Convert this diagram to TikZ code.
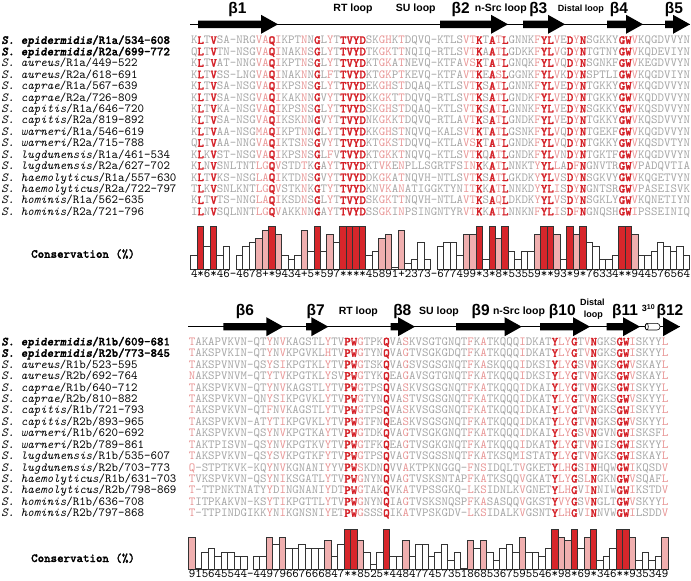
\documentclass[tikz,border=0pt]{standalone}
\usepackage{fontspec}
\setmainfont{Liberation Sans}
\setmonofont{lmmono10-regular.otf}[
  ItalicFont=lmmono10-italic.otf,
  BoldFont=lmmonolt10-bold.otf,
  BoldItalicFont=lmmonolt10-boldoblique.otf,
  BoldFeatures={FakeBold=1.5},
  BoldItalicFeatures={FakeBold=1.5}]
\usepackage{xcolor}
\definecolor{resgray}{HTML}{A5A5A5}
\definecolor{respink}{HTML}{E89595}
\definecolor{resred}{HTML}{D42027}
\definecolor{barred}{HTML}{D7262B}
\definecolor{barpink}{HTML}{F0AFAF}
\definecolor{baredge}{HTML}{333333}

\newcommand\alnfont{\ttfamily\fontsize{12.344}{13}\selectfont}
\newcommand\betafont{\bfseries\fontsize{15.5}{16}\selectfont}
\newcommand\loopfont{\bfseries\fontsize{10.5}{11}\selectfont}
\newcommand\distfont{\bfseries\fontsize{9}{10}\selectfont}

% colour of one residue, from the conservation symbol of its column
\def\rescol#1#2{%
  \ifx*#1\textcolor{resred}{\bfseries#2}%
  \else\ifx+#1\textcolor{respink}{#2}%
  \else\ifx8#1\textcolor{respink}{#2}%
  \else\ifx9#1\textcolor{respink}{#2}%
  \else\textcolor{resgray}{#2}\fi\fi\fi\fi}
\def\pairup#1#2\relax#3#4\relax{\rescol#1{#3}%
  \ifx\relax#2\relax\else\pairup#2\relax#4\relax\fi}
\newcommand\colorres[2]{\expandafter\pairup#1\relax#2\relax}

% one histogram bar per conservation symbol
\newcount\barcol
\def\onebar#1{%
  \ifx-#1\else
    \def\barv{#1}\def\barfill{white}%
    \ifx*#1\def\barv{11}\def\barfill{barred}\fi
    \ifx+#1\def\barv{10}\def\barfill{barpink}\fi
    \ifx8#1\def\barfill{barpink}\fi
    \ifx9#1\def\barfill{barpink}\fi
    \draw[bar, fill=\barfill] ({\barx+(\the\barcol-1)*\colw},\bary)
      rectangle ++(\colw,{\barscale*\barv-\baroff});
  \fi}
\def\barsfrom#1#2\relax{\advance\barcol by 1\relax\onebar#1%
  \ifx\relax#2\relax\else\barsfrom#2\relax\fi}

% beta strand arrow: start, tip, y
\newcommand\strand[3]{%
  \fill (#1,#3+3.7) -- (#2-17,#3+3.7) -- (#2-17,#3+9.5) -- (#2,#3)
    -- (#2-17,#3-9.5) -- (#2-17,#3-3.7) -- (#1,#3-3.7) -- cycle;}

% label + coloured sequence of one alignment row
\newcommand\alnrow[4]{%
  \node[lab] (lab#1#2) at (1.3,{\rowtop-(#2-1)*\rowstep}) {#3};
  \node[seq] (seq#1#2) at (\seqx,{\rowtop-(#2-1)*\rowstep}) {\colorres{\curcons}{#4}};}

\begin{document}
\begin{tikzpicture}[x=1pt,y=1pt,
  lab/.style={anchor=base west, inner sep=0pt, font=\alnfont},
  seq/.style={anchor=base west, inner sep=0pt, font=\alnfont},
  betalab/.style={anchor=base, inner sep=0pt, font=\betafont},
  looplab/.style={anchor=base, inner sep=0pt, font=\loopfont},
  bar/.style={draw=baredge, line width=0.8pt}
]
  \useasboundingbox (0,0) rectangle (691,-581);
  \def\colw{6.4807}
  \def\rowstep{11.43}

  % ---------- R1a / R2a ----------
  \draw[line width=0.9pt] (190,-24.3) -- (690,-24.3);
  \strand{198}{278}{-24.3}
  \strand{440}{508}{-24.3}
  \strand{523}{565}{-24.3}
  \strand{607}{643}{-24.3}
  \strand{665}{690}{-24.3}

  \node[betalab] (b1) at (237.5,-13.3) {β1};
  \node[looplab] (rta) at (353,-11.7) {RT loop};
  \node[looplab] (sua) at (415.8,-11.7) {SU loop};
  \node[betalab] (b2) at (460.7,-13.3) {β2};
  \node[looplab] (srca) at (500.8,-11.7) {n-Src loop};
  \node[betalab] (b3) at (538.3,-13.3) {β3};
  \node[looplab, font=\distfont] (dista) at (580.8,-11.7) {Distal loop};
  \node[betalab] (b4) at (619,-13.3) {β4};
  \node[betalab] (b5) at (674,-13.3) {β5};

  \def\curcons{4*6*46-4678+*9434+5*597****45891+2373-677499*3*8*53559**93*9*76334**944576564}
  \def\rowtop{-43.9}\def\seqx{190.8}
  \alnrow{a}{1}{\textbf{\textit{S. epidermidis}/R1a/534-608}}{KLTVSA-NRGVAQIKPTNNGLYTTVYDSKGHKTDQVQ-KTLSVTKTATLGNNKFYLVEDYNSGKKYGWVKQGDVVYN}
  \alnrow{a}{2}{\textbf{\textit{S. epidermidis}/R2a/699-772}}{QLTVTN-NSGVAQINAKNSGLYTTVYDTKGKTTNQIQ-RTLSVTKAATLGDKKFYLVGDYNTGTNYGWVKQDEVIYN}
  \alnrow{a}{3}{\textit{S. aureus}/R1a/449-522}{KLTVAT-NNGVAQIKPTNSGLYTTVYDKTGKATNEVQ-KTFAVSKTATLGNQKFYLVQDYNSGNKFGWVKEGDVVYN}
  \alnrow{a}{4}{\textit{S. aureus}/R2a/618-691}{KLTVSS-LNGVAQINAKNNGLFTTVYDKTGKPTKEVQ-KTFAVTKEASLGGNKFYLVKDYNSPTLIGWVKQGDVIYN}
  \alnrow{a}{5}{\textit{S. caprae}/R1a/567-639}{KLTVSA-NSGVAQIKPSNSGLYTTVYDEKGHSTDQAQ-KTLSVTKSATLGNNKFYLVEDYNTGKKYGWVKQGDVVYN}
  \alnrow{a}{6}{\textit{S. caprae}/R2a/726-809}{KLTVSA-NSGVAQIKAKNNGVYTTVYDKKGKTTDQVQ-RTLSVTKSATLGNDKFYLVEDYNTGKKYGWVKQDDVVYN}
  \alnrow{a}{7}{\textit{S. capitis}/R1a/646-720}{KLTVKA-NSGVAQIKPSNSGLYTTVYDSKGHSTDQAQ-KTLSVTKSATLGNNKFYLVEDYNSGKKYGWVKQSDVVYN}
  \alnrow{a}{8}{\textit{S. capitis}/R2a/819-892}{KLTVSA-NSGVAQIKSKNNGVYTTVYDNKGKKTDQVQ-RTLAVTKSATLGNDKFYLVEDYNTGKKYGWVKQSDVVYN}
  \alnrow{a}{9}{\textit{S. warneri}/R1a/546-619}{KLTVAA-NSGMAQIKPTNNGLYTTVYDKKGHSTNQVQ-KALSVTKTATLGSNKFYLVQDYNTGEKFGWVKQGDVVYN}
  \alnrow{a}{10}{\textit{S. warneri}/R2a/715-788}{QLTVAA-NNGVAQIKTSNSGVYTTVYDKTGKSTDQVQ-KTLAVSKTATLGNDKFYLVQDYNTGKKYGWVKQSDVTYN}
  \alnrow{a}{11}{\textit{S. lugdunensis}/R1a/461-534}{KLKVST-NSGVAQIKPSNSGLFVTVYDKTGKKTNQVQ-KTLSVTKQATLGNDKFYLVNDYNTGKTFGWVKQGDVVYN}
  \alnrow{a}{12}{\textit{S. lugdunensis}/R2a/627-702}{KLNVSNLTNTLGQVSTDTKGAYTTVYDKTVKENPLLSGRTFSINKKATLNNKTYYLLADFNGNVTRGWVPADQVTIA}
  \alnrow{a}{13}{\textit{S. haemolyticus}/R1a/557-630}{KLTVKS-NSGLAQIKTDNSGVYTTVYDDKGKATNQVH-NTLSVTKSATLGKDKYYLVSDYNSGKVYGWVKQGETVYN}
  \alnrow{a}{14}{\textit{S. haemolyticus}/R2a/722-797}{TLKVSNLKNTLGQVSTKNKGTYTTVYDKNVKANATIGGKTYNITKKATLNNKDYYLISDYNGNTSRGWVPASEISVK}
  \alnrow{a}{15}{\textit{S. hominis}/R1a/562-635}{KLTVTS-NNGLAQIKSDNSGLYTTVYDSKGKTTNQVH-NTLAVTKSAQLDKDKYYLVSDYNSGKLYGWVKQNETIYN}
  \alnrow{a}{16}{\textit{S. hominis}/R2a/721-796}{ILNVSQLNNTLGQVAKKNNGAYTTVYDSSGKINPSINGNTYRVTKKATLNNKNFYLISDFNGNQSHGWIPSSEINIQ}

  \node[lab, font=\alnfont\bfseries] (consa) at (31,-257.8) {Conservation (\%)};
  \def\barx{190.8}\def\bary{-269.3}\def\barscale{4.06}\def\baroff{1.9}
  \barcol=0 \expandafter\barsfrom\curcons\relax
  \node[seq] (numa) at (\seqx,-277.5) {\curcons};

  % ---------- R1b / R2b ----------
  \draw[line width=0.9pt] (188.3,-326.7) -- (680,-326.7);
  \strand{223.3}{283.3}{-326.7}
  \strand{306}{328.3}{-326.7}
  \strand{390.7}{415}{-326.7}
  \strand{456}{521.7}{-326.7}
  \strand{540}{590}{-326.7}
  \strand{606.7}{640}{-326.7}
  \draw[fill=white, line width=0.6pt, rounded corners=3pt] (645,-330) rectangle (660,-323.4);
  \draw[line width=0.6pt] (646.8,-326.7) ellipse (1.5 and 3.3);
  \strand{663}{680}{-326.7}

  \node[betalab] (b6) at (245,-315) {β6};
  \node[betalab] (b7) at (315.7,-315) {β7};
  \node[looplab] (rtb) at (358.3,-314) {RT loop};
  \node[betalab] (b8) at (402.3,-315) {β8};
  \node[looplab] (sub) at (439,-314) {SU loop};
  \node[betalab] (b9) at (480.7,-315) {β9};
  \node[looplab] (srcb) at (519,-314) {n-Src loop};
  \node[betalab] (b10) at (562.3,-315) {β10};
  \node[looplab, font=\distfont] (distb) at (592.3,-305.7) {Distal};
  \node[looplab, font=\distfont] (loopb) at (593.3,-317.3) {loop};
  \node[betalab] (b11) at (625,-315) {β11};
  \node[looplab, font=\distfont] (h310) at (648.3,-311.5) {3\raisebox{2.5pt}{\fontsize{7}{7}\selectfont 10}};
  \node[betalab] (b12) at (670,-315) {β12};

  \def\curcons{915645544-44979667666847**8525*4484774573518685367595546*98*69*346**935349}
  \def\rowtop{-345.4}\def\seqx{188.6}
  \alnrow{b}{1}{\textbf{\textit{S. epidermidis}/R1b/609-681}}{TAKAPVKVN-QTYNVKAGSTLYTVPWGTPKQVASKVSGTGNQTFKATKQQQIDKATYLYGTVNGKSGWISKYYL}
  \alnrow{b}{2}{\textbf{\textit{S. epidermidis}/R2b/773-845}}{TAKSPVKIN-QTYNVKPGVKLHTVPWGTYNQVAGTVSGKGDQTFKATKQQQIDKATYLYGTVNGKSGWISKYYL}
  \alnrow{b}{3}{\textit{S. aureus}/R1b/523-595}{TAKSPVNVN-QSYSIKPGTKLYTVPWGTSKQVAGSVSGSGNQTFKASKQQQIDKSIYLYGSVNGKSGWVSKAYL}
  \alnrow{b}{4}{\textit{S. aureus}/R2b/692-764}{NAKSPVNVM-QTYTVKPGTKLYSVPWGTYKQEAGAVSGTGNQTFKATKQQQIDKSIYLYGTVNGKSGWVSKAYL}
  \alnrow{b}{5}{\textit{S. caprae}/R1b/640-712}{TAKSPVKVN-QTYNVKAGSTLYTVPWGTPSQVASKVSGSGNQTFKATKQQQIDKAIYLYGTVNGKSGWISKYYL}
  \alnrow{b}{6}{\textit{S. caprae}/R2b/810-882}{TAKSPVKVN-QNYSIKPGVKLYTVPWGTYNQVASTVSGSGNQTFKATKQQQIDKATYLYGTVNGKSGWVSKYYL}
  \alnrow{b}{7}{\textit{S. capitis}/R1b/721-793}{TAKSPVKVN-QTFNVKAGSTLYTVPWGTPSQVASKVSGSGNQTFKATKQQQIDKAIYLYGTVNGKSGWISKYYL}
  \alnrow{b}{8}{\textit{S. capitis}/R2b/893-965}{TAKSPVKVN-ATYTIKPGVKLYTVPWGTFNQEASKVSGSGNQTFKATKQQQIDKATYLYGTVNGKSGWVSKYYL}
  \alnrow{b}{9}{\textit{S. warneri}/R1b/620-692}{TAKSPVKVN-QSYNVKPGTKAYTVPWGTDKQVAGTVSGKGNQTFKATKQQQIDKAIYLYGSVNGVNGWISKSFL}
  \alnrow{b}{10}{\textit{S. warneri}/R2b/789-861}{TAKTPISVN-QSYNVKPGTKVYTVPWGTFKQEAGTVSGKGNQTFKATKQQQIDKATYLYGTVNGISGWISKYYL}
  \alnrow{b}{11}{\textit{S. lugdunensis}/R1b/535-607}{TAKSPVKVN-QSYSVKPGTKFYTVPWGTPSQVAGTVSGSSNQTFKATKSQMISTATYLYGTVNGKSGWISKAYL}
  \alnrow{b}{12}{\textit{S. lugdunensis}/R2b/703-773}{Q-STPTKVK-KQYNVKGNANIYYVPWSKDNQVVAKTPKNGGQ-FNSIDQLTVGKETYLHGSINHQWGWIKQSDV}
  \alnrow{b}{13}{\textit{S. haemolyticus}/R1b/631-703}{TVKSPVKVN-QSYNIKSGATLYTVPWGNYNQVAGTVSKSNTAPFKATKSQQVGKATYLYGSLNGKNGWVSQAFL}
  \alnrow{b}{14}{\textit{S. haemolyticus}/R2b/798-869}{T-TTPNKTNATYYDINGNANIYDTPWGTAKQVKATVPSSGKQ-LKSIDNLKVGNETYLHGVINNIWGWIKSTDV}
  \alnrow{b}{15}{\textit{S. hominis}/R1b/636-708}{TITPKAKVN-KSYTIKPGTTLYTVPWGNYNQIAGTVSKSNQSPFKASASQQVGKSTYVYGSVNGLTGWVSKYYL}
  \alnrow{b}{16}{\textit{S. hominis}/R2b/797-868}{T-TTPINDGIKKYNIKGNSNIYETPWGSSSQIKATVPSKGDV-LKSIDALKVGSNTYLHGVINNVWGWILSDDV}

  \node[lab, font=\alnfont\bfseries] (consb) at (31,-562) {Conservation (\%)};
  \def\barx{188.6}\def\bary{-569.3}\def\barscale{3.94}\def\baroff{3.1}
  \barcol=0 \expandafter\barsfrom\curcons\relax
  \node[seq] (numb) at (\seqx,-577.9) {\curcons};
\end{tikzpicture}
\end{document}
